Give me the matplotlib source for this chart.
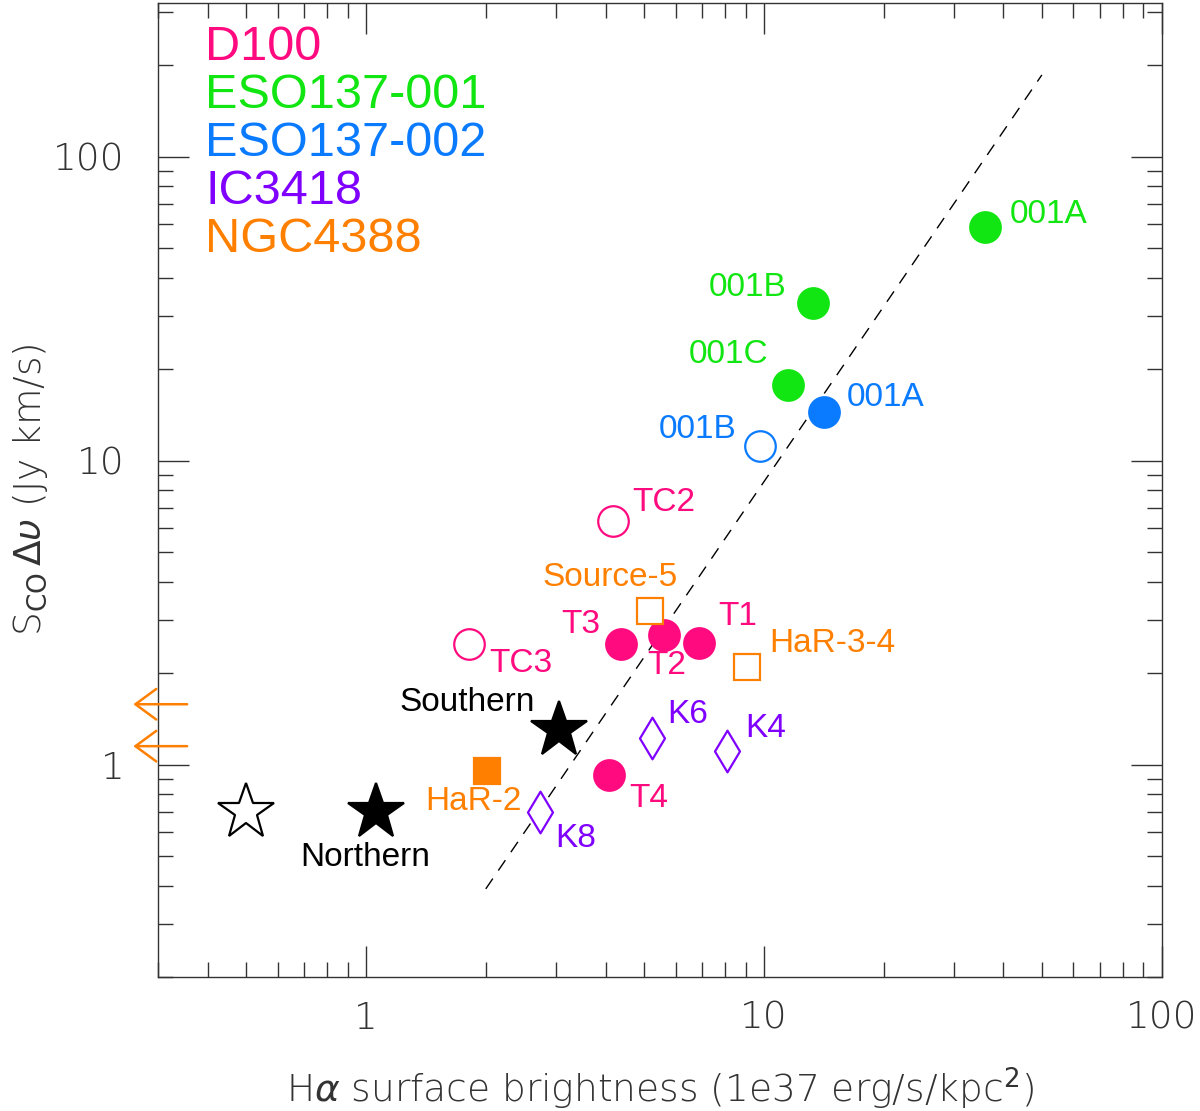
import numpy as np
import matplotlib.pyplot as plt
from matplotlib.path import Path
from matplotlib.ticker import LogLocator, FixedLocator, FixedFormatter, NullFormatter

plt.rcParams['font.family'] = ['Liberation Sans', 'DejaVu Sans']
plt.rcParams['mathtext.fontset'] = 'dejavusans'

# colours per galaxy
c_d100 = '#ff0a7f'
c_eso1 = '#12e612'
c_eso2 = '#0a7bff'
c_ic = '#8000ff'
c_ngc = '#ff8000'

# ESO137-001 (filled circles)
eso1_names = ['001A', '001B', '001C']
eso1_x = [36.0, 13.3, 11.5]
eso1_y = [58.9, 33.1, 17.8]

# ESO137-002 (filled / open circles)
eso2_names = ['001A', '001B']
eso2_x = [14.2, 9.77]
eso2_y = [14.5, 11.2]
eso2_open = [False, True]

# D100
d100_names = ['TC2', 'TC3', 'T3', 'T2', 'T1', 'T4']
d100_x = [4.18, 1.82, 4.38, 5.62, 6.87, 4.09]
d100_y = [6.35, 2.50, 2.50, 2.68, 2.52, 0.927]
d100_open = [True, True, False, False, False, False]

# NGC4388 (squares)
ngc_names = ['Source-5', 'HaR-3-4', 'HaR-2']
ngc_x = [5.18, 9.06, 2.01]
ngc_y = [3.21, 2.10, 0.95]
ngc_open = [True, True, False]
ngc_upper = [1.58, 1.15]   # upper limits drawn as arrows at the left

# IC3418 (diamonds)
ic_names = ['K6', 'K4', 'K8']
ic_x = [5.24, 8.08, 2.73]
ic_y = [1.22, 1.11, 0.70]

# stars
star_names = ['Southern', 'Northern', '']
star_x = [3.06, 1.06, 0.50]
star_y = [1.30, 0.70, 0.70]
star_open = [False, False, True]

# dashed relation
line_x = [2.0, 50.0]
line_y = [0.39, 186.0]

legend_names = ['D100', 'ESO137-001', 'ESO137-002', 'IC3418', 'NGC4388']
legend_colors = [c_d100, c_eso1, c_eso2, c_ic, c_ngc]

fig = plt.figure(figsize=(12, 11.11), dpi=100)
ax = fig.add_axes([0.1317, 0.1206, 0.8363, 0.8764])
ax.set_xscale('log')
ax.set_yscale('log')
ax.set_xlim(0.30, 100)
ax.set_ylim(0.2, 320)

ax.plot(line_x, line_y, color='k', lw=1.0, ls=(0, (9, 7)))

diamond = Path([(0, 1), (0.6, 0), (0, -1), (-0.6, 0), (0, 1)],
               [Path.MOVETO, Path.LINETO, Path.LINETO, Path.LINETO, Path.CLOSEPOLY])

lab_fs = 24


def put(x, y, marker, col, is_open, ms, name, off, ha='left'):
    ax.plot([x], [y], marker=marker, ms=ms, mew=1.6, mec=col,
            mfc='white' if is_open else col, ls='none', zorder=3)
    if name:
        ax.annotate(name, (x, y), xytext=off, textcoords='offset points',
                    ha=ha, va='center', color=col, fontsize=lab_fs)


eso1_off = [((18, 9), 'left'), ((-19, 11), 'right'), ((-14, 22), 'right')]
for i in range(len(eso1_x)):
    put(eso1_x[i], eso1_y[i], 'o', c_eso1, False, 22, eso1_names[i], *eso1_off[i])

eso2_off = [((16, 10), 'left'), ((-17, 12), 'right')]
for i in range(len(eso2_x)):
    put(eso2_x[i], eso2_y[i], 'o', c_eso2, eso2_open[i], 22, eso2_names[i], *eso2_off[i])

d100_off = [((14, 13), 'left'), ((14, -14), 'left'), ((-15, 14), 'right'),
            ((-12, -22), 'left'), ((14, 19), 'left'), ((14, -17), 'left')]
for i in range(len(d100_x)):
    put(d100_x[i], d100_y[i], 'o', c_d100, d100_open[i], 22, d100_names[i], *d100_off[i])

ngc_off = [((-29, 24), 'center'), ((16, 17), 'left'), ((25, -22), 'right')]
for i in range(len(ngc_x)):
    put(ngc_x[i], ngc_y[i], 's', c_ngc, ngc_open[i], 19, ngc_names[i], *ngc_off[i])

ic_off = [((11, 17), 'left'), ((13, 16), 'left'), ((11, -19), 'left')]
for i in range(len(ic_x)):
    put(ic_x[i], ic_y[i], diamond, c_ic, True, 30, ic_names[i], *ic_off[i])

star_off = [((-66, 20), 'center'), ((-8, -33), 'center'), ((0, 0), 'center')]
for i in range(len(star_x)):
    put(star_x[i], star_y[i], '*', 'k', star_open[i], 42, star_names[i], *star_off[i])

# upper limits (arrows outside the left axis)
for yv in ngc_upper:
    ax.annotate('', xy=(0.26, yv), xytext=(0.355, yv), annotation_clip=False,
                arrowprops=dict(arrowstyle='->,head_length=0.75,head_width=0.55',
                                mutation_scale=20, color=c_ngc, lw=1.8,
                                shrinkA=0, shrinkB=0))

for i, (nm, col) in enumerate(zip(legend_names, legend_colors)):
    ax.text(0.047, 0.955 - i * 0.0495, nm, transform=ax.transAxes,
            color=col, fontsize=35, va='center', ha='left')

# ticks
ax.xaxis.set_major_locator(FixedLocator([1, 10, 100]))
ax.xaxis.set_major_formatter(FixedFormatter(['1', '10', '100']))
ax.xaxis.set_minor_locator(LogLocator(base=10, subs=np.arange(2, 10)))
ax.xaxis.set_minor_formatter(NullFormatter())
ax.yaxis.set_major_locator(FixedLocator([1, 10, 100]))
ax.yaxis.set_major_formatter(FixedFormatter(['1', '10', '100']))
ax.yaxis.set_minor_locator(LogLocator(base=10, subs=np.arange(2, 10)))
ax.yaxis.set_minor_formatter(NullFormatter())

gray = '#333333'
ax.tick_params(which='both', direction='in', top=True, right=True,
               color=gray, width=1.0)
ax.tick_params(which='major', length=22)
ax.tick_params(which='minor', length=11)
ax.tick_params(axis='x', pad=17)
ax.tick_params(axis='y', pad=24)
for lab in ax.get_xticklabels() + ax.get_yticklabels():
    lab.set_family('DejaVu Sans')
    lab.set_fontsize(27)
    lab.set_fontweight('light')
    lab.set_color(gray)
for sp in ax.spines.values():
    sp.set_color(gray)
    sp.set_linewidth(1.0)

ax.set_xlabel(r'H$\alpha$ surface brightness (1e37 erg/s/kpc$^2$)',
              fontsize=27, family='DejaVu Sans', fontweight='light',
              color=gray, labelpad=22)
ax.set_ylabel(r'S$_{\rm CO}\,\Delta\upsilon$ (Jy km/s)',
              fontsize=27, family='DejaVu Sans', fontweight='light',
              color=gray, labelpad=2)

fig.savefig('out.png', dpi=100)
